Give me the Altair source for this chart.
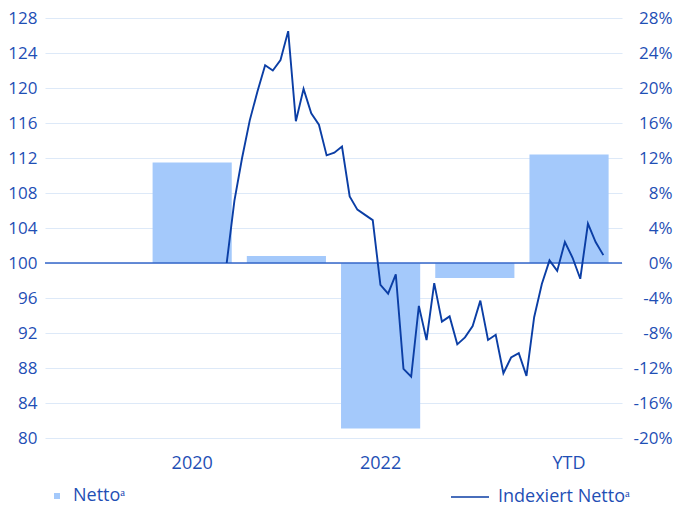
import altair as alt
import pandas as pd

# ---- data ----
years = ["2019", "2020", "2021", "2022", "2023", "YTD"]
bar_years = ["2020", "2021", "2022", "2023", "YTD"]
bar_pct = [11.5, 0.8, -18.9, -1.7, 12.4]

line_idx = [100.0, 107.1, 112.0, 116.3, 119.6, 122.6, 122.0, 123.2, 126.5, 116.2,
            119.9, 117.1, 115.8, 112.3, 112.6, 113.3, 107.6, 106.1, 105.5, 104.9,
            97.5, 96.5, 98.7, 87.9, 87.0, 95.1, 91.2, 97.7, 93.3, 93.9,
            90.7, 91.5, 92.8, 95.7, 91.2, 91.8, 87.4, 89.2, 89.7, 87.1,
            93.8, 97.6, 100.3, 99.1, 102.4, 100.6, 98.2, 104.5, 102.4, 100.9]
line_t = list(range(len(line_idx)))

left_ticks = list(range(80, 129, 4))
right_ticks = list(range(-20, 29, 4))
x_labels = ["2020", "2022", "YTD"]

bar_name = "Nettoᵃ"
line_name = "Indexiert Nettoᵃ"

bars_df = pd.DataFrame({"year": bar_years, "pct": bar_pct, "series": bar_name})
line_df = pd.DataFrame({"t": line_t, "idx": line_idx, "series": line_name})
base_df = pd.DataFrame({"base": [100]})

FONT = "Open Sans"
TXT = "#1f4fb5"
BAR = "#a4c9fb"
LINE = "#0b3ea5"
GRID = "#dde9f8"
BASE = "#3566c8"

left_axis = alt.Axis(orient="left", values=left_ticks, grid=True, gridColor=GRID,
                     gridWidth=1.2, ticks=False, domain=False, labelPadding=8,
                     labelFontSize=17, title=None)
y_scale = alt.Scale(domain=[80, 128], nice=False, zero=False)

bars = alt.Chart(bars_df).mark_bar().encode(
    x=alt.X("year:N", sort=years,
            scale=alt.Scale(domain=years, paddingInner=0.16, paddingOuter=0.142),
            axis=alt.Axis(values=x_labels, labelAngle=0, ticks=False, domain=False,
                          labelPadding=16, labelFontSize=18, title=None, grid=False)),
    y=alt.Y("pct:Q", scale=alt.Scale(domain=[-20, 28], nice=False),
            axis=alt.Axis(orient="right", values=right_ticks, labelExpr="datum.value + '%'",
                          grid=False, ticks=False, domain=False, labelAlign="right",
                          labelPadding=50, labelFontSize=17, title=None)),
    color=alt.Color("series:N", scale=alt.Scale(range=[BAR]),
                    legend=alt.Legend(orient="none", legendX=3, legendY=469, title=None,
                                      symbolType="square", symbolSize=36, labelOffset=7,
                                      labelFontSize=18, labelColor=TXT, labelFont=FONT,
                                      padding=0)),
)

rule = alt.Chart(base_df).mark_rule(color=BASE, strokeWidth=1.5).encode(
    y=alt.Y("base:Q", scale=y_scale, axis=left_axis),
)

line = alt.Chart(line_df).mark_line(strokeWidth=1.9).encode(
    x=alt.X("t:Q", scale=alt.Scale(domain=[-23.64, 51.43], nice=False, zero=False), axis=None),
    y=alt.Y("idx:Q", scale=y_scale, axis=left_axis),
    stroke=alt.Stroke("series:N", scale=alt.Scale(range=[LINE]),
                      legend=alt.Legend(orient="none", legendX=405, legendY=459, title=None,
                                        symbolType="stroke", symbolSize=1444,
                                        symbolStrokeWidth=1.5, symbolStrokeColor=LINE,
                                        labelOffset=8, labelFontSize=18, labelColor=TXT,
                                        labelFont=FONT, padding=0)),
)

chart = alt.layer(bars, alt.layer(rule, line)).resolve_scale(
    y="independent", x="independent", color="independent", stroke="independent"
).properties(
    width=577, height=420,
    autosize=alt.AutoSizeParams(type="none"),
    padding={"left": 37, "top": 10, "right": 51, "bottom": 72},
).configure_axis(
    labelFont=FONT, labelColor=TXT,
).configure_view(strokeWidth=0)

chart.save("out.html", embed_options={"renderer": "svg", "actions": False})
